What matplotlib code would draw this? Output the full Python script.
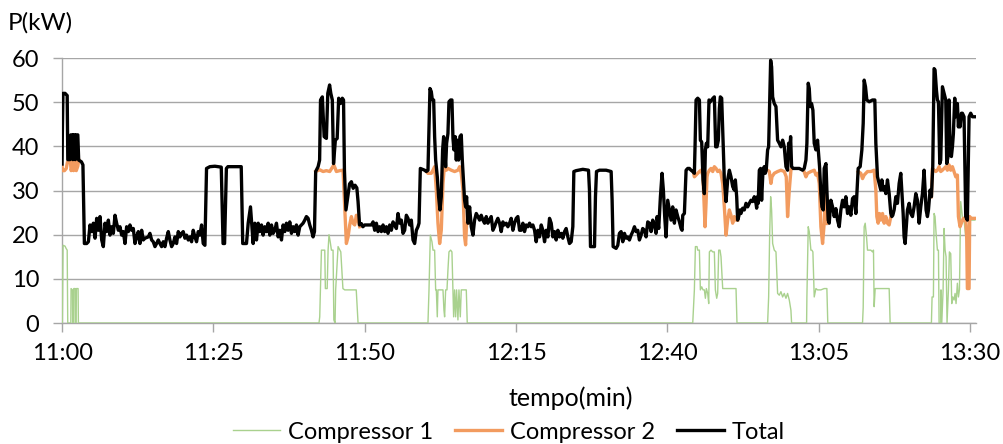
import numpy as np
import matplotlib
matplotlib.use("Agg")
import matplotlib.pyplot as plt

# minutes since 11:00, kW
t_total = [0, 0.05, 0.15, 0.5, 0.85, 0.95, 1.3, 1.45, 1.7, 1.78, 1.88, 2.1, 2.2, 2.3, 2.6, 2.75, 3.2, 3.45, 3.69,
           4.07, 4.35, 4.62, 4.90, 5.17, 5.45, 5.72, 6.00, 6.27, 6.55, 6.82, 7.10, 7.37, 7.65, 7.92, 8.20, 8.47, 8.75,
           9.02, 9.30, 9.57, 9.85, 10.12, 10.40, 10.67, 10.95, 11.22, 11.50, 11.77, 12.05, 12.32, 12.60, 12.87, 13.15,
           13.42, 13.70, 14.25, 14.52, 14.80, 15.07, 15.35, 15.62, 15.90, 16.17, 16.45, 16.72, 17.00, 17.27, 17.55,
           17.82, 18.10, 18.37, 18.65, 18.92, 19.20, 19.47, 19.75, 20.02, 20.30, 20.57, 20.85, 21.12, 21.40, 21.67,
           21.95, 22.22, 22.50, 22.77, 23.05, 23.32, 23.60, 23.87, 24.42, 25.25,
           26.3, 26.6, 26.85, 27.15, 27.4, 29.6, 29.85, 30.2, 30.47, 30.75, 31.13, 31.57, 31.85, 32.12, 32.4, 32.67,
           32.95, 33.22, 33.5, 33.77, 34.05, 34.32, 34.6, 34.87, 35.15, 35.42, 35.7, 35.97, 36.25, 36.52, 36.8, 37.07,
           37.35, 37.62, 37.9, 38.17, 38.45, 38.72, 39.0, 39.27, 39.55, 39.82, 40.1, 40.37, 40.65, 40.92, 41.2, 41.47,
           41.7, 41.9, 42.3, 42.55, 42.7, 43.0, 43.3, 43.67, 43.9, 44.2, 44.4, 44.65, 44.85, 45.15, 45.45, 45.7, 46.0,
           46.3, 46.5, 46.65, 46.9, 47.2, 47.5, 47.8, 48.1, 48.4, 48.7, 48.9, 49.15, 49.45, 49.7,
           50.0, 51.1, 51.38, 51.65, 51.93, 52.2, 52.48, 52.75, 53.03, 53.3, 53.58, 53.85, 54.13, 54.4, 54.68, 54.95,
           55.23, 55.5, 55.78, 56.05, 56.33, 56.6, 56.88, 57.15, 57.43, 57.7, 57.98, 58.25, 58.53, 58.8, 58.97, 59.19,
           59.9, 60.18, 60.45, 60.56, 60.78, 61.0, 61.17, 61.39, 61.55, 61.72, 61.99, 62.21, 62.43, 62.65, 62.87, 63.04,
           63.2, 63.37, 63.53, 63.75, 63.92, 64.19, 64.41, 64.58, 64.74, 64.96, 65.13, 65.29, 65.51, 65.73, 65.95,
           66.12, 66.28, 66.5, 66.67, 66.83, 67.05, 67.33, 67.6, 67.88, 68.15, 68.43, 68.7, 68.98, 69.25, 69.53, 69.8,
           70.08, 70.35, 70.63, 70.9, 71.18, 71.45, 71.73, 72.0, 72.28, 72.55, 72.83, 73.1, 73.38, 73.65, 73.93, 74.2,
           74.48, 74.75, 75.03, 75.3, 75.58,
           75.85, 76.13, 76.4, 76.68, 76.96, 77.23, 77.51, 77.78, 78.06, 78.33, 78.61, 78.88, 79.16, 79.43, 79.71,
           79.98, 80.26, 80.53, 80.81, 81.08, 81.36, 81.63, 81.91, 82.18, 82.46, 82.73, 83.01, 83.28, 83.56, 83.83,
           84.11, 84.38, 84.55, 84.93, 86.03, 86.97, 87.13, 87.3, 87.96, 88.12, 88.29, 88.78, 89.88, 90.71, 90.87,
           91.04, 91.53, 91.81, 92.08, 92.36, 92.63, 92.91, 93.18, 93.46, 93.73, 94.01, 94.28, 94.56, 94.83, 95.11,
           95.38, 95.66, 95.93, 96.21, 96.48, 96.76, 97.03, 97.31, 97.58, 97.86, 98.13, 98.3, 98.57, 98.85, 99.12,
           99.34, 99.56, 99.78, 100.06, 100.33, 100.61, 100.88,
           101.16, 101.43, 101.71, 101.99, 102.26, 102.43, 102.54, 102.81, 103.09, 103.36, 103.64, 103.91, 104.19,
           104.46, 104.57, 104.74, 105.01, 105.29, 105.45, 105.67, 105.89, 106.11, 106.28, 106.44, 106.66, 106.88,
           107.1, 107.32, 107.54, 107.76, 107.98, 108.2, 108.42, 108.59, 108.75, 108.97, 109.19, 109.41, 109.69,
           109.96, 110.24, 110.51, 110.79, 111.06, 111.23, 111.45, 111.61, 111.78, 112.0, 112.16, 112.44, 112.71,
           112.99, 113.26, 113.54, 113.81, 114.09, 114.36, 114.64, 114.75, 114.9, 115.0, 115.19, 115.4, 115.57, 115.8,
           116.0, 116.17, 116.33, 116.56, 116.73, 116.89, 117.06, 117.22, 117.39, 117.66, 117.94, 118.21, 118.49,
           118.76, 119.04, 119.31, 119.59, 119.86, 120.03, 120.19, 120.36, 120.52, 120.8, 121.24, 121.79, 122.34,
           122.61, 122.89, 123.05, 123.27, 123.44, 123.6, 123.82, 124.04, 124.26, 124.54, 124.81, 124.98, 125.14,
           125.36, 125.53, 125.75, 125.91, 126.2, 126.35,
           126.57, 126.74, 127.01, 127.29, 127.56, 127.84, 128.11, 128.39, 128.66, 128.94, 129.21, 129.49, 129.76,
           130.04, 130.31, 130.59, 130.86, 131.14, 131.3, 131.52, 131.85, 132.13, 132.35, 132.51, 132.73, 132.95,
           133.34, 133.89, 134.27, 134.44, 134.71, 134.99, 135.26, 135.43, 135.65, 135.87, 136.09, 136.36, 136.64,
           136.91, 137.08, 137.24, 137.46, 137.74, 138.01, 138.29, 138.56, 138.73, 138.95, 139.11, 139.28, 139.5,
           139.66, 139.94, 140.21, 140.49, 140.76, 141.04, 141.31, 141.59, 141.86, 142.14, 142.41, 142.58, 142.74,
           142.96, 143.13, 143.4, 143.62, 143.84, 144.06, 144.22, 144.45, 144.61, 144.78, 145.0, 145.16, 145.44,
           145.71, 145.99, 146.15, 146.37, 146.54, 146.7, 146.92, 147.09, 147.25, 147.47, 147.64, 147.91, 148.08,
           148.19, 148.35, 148.57, 148.74, 149.01, 149.29, 149.56, 149.84, 150.11, 150.39, 150.8]
p_total = [36, 43, 52, 52, 51.5, 37, 37, 42.6, 42.6, 37, 42.6, 42.6, 37, 42.6, 42.6, 36.9, 36.5, 35.8, 18.0,
           18.0, 18.4, 22.2, 20.7, 22.6, 19.2, 23.7, 21.0, 24.1, 18.8, 17.3, 22.6, 20.7, 23.3, 19.9, 21.8, 20.3, 24.4,
           22.6, 21.0, 21.8, 19.9, 20.7, 18.0, 21.8, 20.7, 22.2, 21.0, 21.4, 18.0, 19.5, 20.7, 18.0, 21.0,
           18.8, 19.2, 19.5, 20.3, 18.8, 18.4, 17.3, 18.0, 18.8, 18.0, 17.3, 18.4, 17.3, 19.2, 20.7,
           18.8, 17.3, 18.0, 19.5, 18.0, 20.7, 19.5, 20.3, 20.7, 19.2, 19.9, 18.8, 19.5, 18.4, 21.0,
           19.5, 18.4, 20.7, 19.9, 22.2, 18.0, 17.6, 35.0, 35.4, 35.5,
           35.3, 18.0, 18.0, 35.0, 35.4, 35.4, 18.0, 18.0, 18.0, 22.6, 26.3, 18.0, 22.6, 18.8, 22.6, 20.7,
           22.2, 19.9, 21.8, 20.7, 22.6, 19.9, 22.2, 20.3, 21.0, 22.6, 19.5, 21.0, 18.8, 22.2, 20.7, 22.6,
           21.0, 22.9, 20.3, 21.8, 20.7, 22.2, 19.9, 21.8, 22.2, 22.6, 23.3, 24.1, 23.7, 22.2, 21.0, 19.5,
           20.7, 34.3, 35.4, 36.9, 50.5, 51.2, 42.2, 41.8, 52.0, 53.9, 52.0, 50.5, 36.1, 41.4, 41.8, 50.9, 49.7,
           50.9, 50.5, 34.6, 25.6, 28.5, 31.5, 32.0, 30.5, 31.2, 30.6, 27.5, 22.2, 22.5, 21.8,
           22.2, 22.2, 22.9, 21.0, 22.6, 20.7, 21.8, 20.7, 22.2, 20.7, 21.8, 20.3, 22.2, 21.0, 22.9, 22.2,
           21.4, 24.8, 22.6, 23.3, 20.3, 21.0, 24.4, 23.7, 22.2, 23.3, 18.8, 18.0, 21.0, 21.8, 22.6, 35.0,
           34.6, 34.3, 34.6, 41.0, 53.1, 52.4, 50.5, 50.5, 42.2, 36.9, 33.1, 28.6, 25.6, 28.6, 39.2, 42.2,
           39.2, 35.4, 40.7, 42.9, 50.1, 50.5, 50.5, 41.8, 39.2, 42.2, 36.9, 41.4, 36.9, 42.2, 42.6,
           36.9, 33.1, 27.8, 26.3, 28.6, 22.6, 26.3, 21.8, 19.9, 23.3, 24.8, 24.1, 23.3, 24.4, 23.3, 22.6,
           24.1, 22.6, 23.3, 24.1, 21.0, 21.8, 22.9, 23.7, 22.6, 20.7, 22.9, 22.2, 22.6, 21.8, 22.6, 23.7,
           21.0, 22.6, 23.7, 24.1, 21.0,
           21.0, 22.6, 20.7, 22.2, 21.8, 22.6, 21.8, 22.2, 21.0, 18.4, 21.0, 19.5, 22.2, 21.0, 18.4,
           21.0, 19.5, 23.7, 22.6, 19.5, 20.7, 18.8, 21.0, 19.5, 20.3, 19.2, 20.7, 21.4, 19.5, 18.0,
           18.4, 21.8, 34.3, 34.5, 34.8, 34.6, 30.1, 17.3, 17.3, 28.6, 34.3, 34.6, 34.6, 34.3, 27.8,
           17.3, 16.9, 17.6, 20.3, 20.7, 18.4, 20.3, 19.2, 19.5, 18.8, 19.9, 20.7, 21.8, 20.7, 21.0,
           18.8, 19.9, 21.4, 21.0, 19.5, 22.9, 22.6, 20.7, 23.3, 22.2, 20.3, 24.1, 21.4, 28.6, 33.9,
           30.1, 24.1, 19.5, 27.8, 25.6, 23.3, 26.3,
           22.6, 25.6, 24.1, 22.9, 21.4, 21.0, 24.4, 24.8, 34.6, 35.0, 35.0, 34.6, 34.3,
           33.9, 39.9, 50.5, 50.9, 50.5, 41.4, 41.0, 32.4, 29.3, 39.2, 40.7, 39.9, 50.5,
           50.1, 50.5, 50.9, 51.2, 39.9, 39.9, 41.4, 48.6, 51.2, 50.9, 41.4, 32.4, 27.5,
           32.4, 34.6, 33.1, 30.9, 30.1, 32.4, 28.6, 23.3, 24.1, 25.6, 24.8, 26.0, 25.6,
           27.1, 26.3, 27.1, 27.8, 27.5, 28.6, 27.1, 26.0, 28.6, 27.1, 34.6, 35.0, 27.8, 34.6,
           35.4, 33.9, 34.6, 39.2, 39.9, 49.0, 59.5, 58.0, 51.2, 49.7, 49.0, 41.4, 40.7,
           39.9, 41.4, 39.9, 35.4, 34.6, 40.7, 38.4, 42.2, 35.4, 35.0, 35.0, 35.0, 34.6,
           35.0, 36.9, 40.7, 54.3, 53.1, 49.0, 49.7, 48.2, 40.7, 39.2, 41.4, 38.4, 35.4,
           29.3, 26.3, 25.6, 35.0, 36.1, 30.1,
           23.3, 22.6, 27.8, 26.3, 24.1, 25.9, 23.3, 21.8, 25.6, 27.8, 26.3, 28.6, 24.8,
           26.3, 24.4, 28.2, 28.6, 24.8, 29.3, 35.0, 35.4, 39.2, 45.2, 55.0, 53.5, 50.5,
           50.1, 50.5, 50.5, 40.7, 33.1, 31.6, 30.1, 32.4, 30.1, 30.9, 29.3, 32.4, 29.3,
           24.8, 24.1, 24.4, 25.6, 28.6, 27.1, 31.6, 33.9, 30.1, 24.8, 19.5, 18.0, 22.6,
           25.6, 27.1, 24.8, 24.1, 26.3, 29.3, 27.8, 22.6, 26.3, 29.3, 34.6, 30.1, 25.6,
           24.1, 25.6, 30.1, 28.6, 35.4, 57.6, 57.3, 52.7, 50.5, 50.1, 36.1, 36.9, 53.5,
           52.0, 50.5, 36.1, 37.7, 50.5, 39.2, 37.7, 39.9, 42.9, 50.9, 46.7, 49.7, 44.4,
           46.7, 44.4, 47.5, 47.5, 46.7, 24.1, 23.3, 46.7, 47.5, 46.7, 46.7]

# compressor 2: only the stretches where it shows below the total (nan = gap)
t_comp2 = [0, 0.1, 0.4, 0.7, 0.9, 1.35, 1.5, 1.7, 1.8, 1.9, 2.1, 2.2, 2.35, 2.6, 2.75, np.nan,
           41.9, 42.57, 43.12, 43.67, 44.22, 44.9, 45.32, 45.87, 46.42, 46.7, 46.97, 47.25, 47.52, 47.8, 48.07,
           48.35, 48.62, 48.9, 49.17, np.nan,
           60.18, 60.45, 61.0, 61.28, 61.55, 61.83, 62.1, 62.38, 62.65, 62.93, 63.2, 63.48, 63.75, 64.3, 64.85,
           65.4, 65.68, 65.95, 66.23, 66.5, 66.67, 66.83, 67.05, np.nan,
           104.35, 104.46, 104.74, 105.29, 105.56, 105.84, 106.0, 106.22, 106.39, 106.55, 106.66, 106.94, 107.21,
           107.49, 107.76, 108.04, 108.31, 108.59, 108.86, 109.14, 109.41, 109.69, 109.96, 110.24, 110.51, 110.79,
           111.06, 111.34, 111.61, np.nan,
           116.45, 116.56, 116.84, 117.11, 117.28, 117.66, 118.21, 118.76, 119.31, 119.64, 119.86, 120.14, 120.41,
           120.58, np.nan,
           122.5, 122.89, 123.16, 123.71, 124.26, 124.54, 124.81, 125.09, 125.36, 125.64, 125.91, 126.1, 126.2,
           126.35, 126.57, np.nan,
           131.52, 131.96, 132.24, 132.51, 132.79, 133.06, 133.61, 134.16, 134.44, 134.6, 134.82, 135.04, 135.26,
           135.54, 135.81, 136.09, 136.36, 136.64, 136.91, np.nan,
           143.62, 143.79, 144.06, 144.34, 144.61, 144.89, 145.16, 145.44, 145.71, 145.99, 146.26, 146.54, 146.81,
           147.09, 147.36, 147.64, 147.91, 148.08, 148.35, 148.57, 148.9, 149.12, 149.29, 149.45, 149.56, 149.84,
           149.95, 150.11, 150.8]
p_comp2 = [35.5, 34.5, 34.5, 35, 36.5, 37, 34.5, 35.5, 36.8, 34.5, 35.5, 36.8, 34.5, 35.5, 36.9, np.nan,
           34.3, 34.7, 34.3, 34.5, 34.3, 35.8, 34.3, 34.5, 34.6, 26.3, 18.0, 19.5, 22.2, 24.1, 22.6,
           22.2, 24.4, 23.3, 21.8, np.nan,
           34.3, 33.9, 33.9, 34.6, 35.4, 30.1, 22.6, 18.0, 21.0, 31.6, 36.1, 34.6, 35.0, 34.6, 34.3,
           34.6, 35.4, 33.9, 30.1, 19.5, 17.7, 22.6, 22.6, np.nan,
           33.9, 33.1, 33.5, 34.3, 34.6, 33.5, 29.3, 21.8, 27.1, 33.1, 33.9, 34.6, 35.0,
           34.3, 35.4, 35.0, 34.3, 34.6, 33.9, 31.6, 26.3, 19.9, 23.3, 25.6, 24.4, 22.6,
           24.1, 23.3, 23.3, np.nan,
           34.6, 34.6, 34.3, 31.6, 33.1, 33.9, 34.3, 34.6, 34.3, 33.1, 24.1, 30.1, 34.6,
           35.0, np.nan,
           34.6, 33.1, 33.9, 34.3, 34.6, 33.5, 33.9, 31.6, 21.8, 18.0, 22.6, 29.5, 30.1,
           22.5, 23.3, np.nan,
           34.3, 33.9, 32.7, 33.5, 33.9, 34.3, 34.3, 34.6, 30.1, 24.1, 22.6, 24.8, 23.3,
           24.8, 22.6, 24.1, 22.6, 22.2, 24.1, np.nan,
           28.6, 35.0, 34.6, 34.3, 34.6, 35.4, 34.3, 34.6, 35.0, 35.4, 34.6, 35.8, 34.6,
           35.4, 34.3, 33.1, 33.5, 24.1, 21.8, 22.6, 23.7, 23.3, 24.1, 19.5, 7.8, 7.8,
           24.1, 23.7, 23.7]

t_comp1 = [0, 0.05, 0.17, 0.5, 0.66, 0.85, 0.94, 1.45, 1.49, 1.72, 1.76, 1.9, 1.93, 2.17, 2.2, 2.33, 2.37, 2.65, 2.7,
           42.45, 42.57, 42.85, 43.4, 43.5, 43.8, 43.95, 44.1, 44.3, 44.5, 44.77, 44.9, 45.1, 45.2, 45.6, 45.9,
           46.05, 46.4, 46.7, 48.6, 48.9,
           60.45, 60.62, 60.84, 61.11, 61.28, 61.55, 61.72, 61.83, 61.99, 62.1, 62.65, 62.93, 63.09, 63.2, 63.37,
           63.59, 63.75, 63.92, 64.19, 64.41, 64.58, 64.69, 64.85, 65.02, 65.18, 65.4, 65.57, 65.79, 65.95, 66.5,
           66.78, 66.94,
           104.19, 104.46, 104.63, 104.9, 105.01, 105.29, 105.45, 105.67, 105.89, 106.11, 106.28, 106.44, 106.66,
           106.83, 106.94, 107.21, 107.49, 107.76, 107.93, 108.15, 108.31, 108.48, 108.7, 108.86, 109.14, 111.34,
           111.5,
           116.56, 116.73, 116.89, 117.06, 117.22, 117.39, 117.66, 117.94, 118.21, 118.49, 118.76, 119.04, 119.31,
           119.59, 119.86, 120.14, 120.41, 120.52,
           123.0, 123.05, 123.27, 123.44, 123.71, 123.87, 124.04, 124.26, 124.54, 124.81, 125.36, 125.91, 126.35,
           126.5,
           132.24, 132.35, 132.51, 132.68, 132.9, 133.06, 133.61, 133.89, 134.05, 134.16, 134.33, 134.71, 135.26,
           136.64, 136.8,
           143.62, 143.73, 143.95, 144.06, 144.22, 144.39, 144.61, 144.78, 144.89, 145.16, 145.2, 145.33, 145.55,
           145.71, 145.88, 146.04, 146.2, 146.43, 146.59, 146.81, 146.98, 147.15, 147.36, 147.53, 147.69, 147.91,
           148.08, 148.25, 148.46, 148.74, 149.01, 149.29, 149.45, 149.56, 149.84, 150.11, 150.8]
p_comp1 = [0, 0, 17.6, 17.4, 16.9, 16.5, 0, 0, 7.8, 7.5, 0, 0, 7.8, 7.8, 0, 0, 7.8, 7.8, 0,
           0, 1.4, 16.5, 16.5, 7.8, 7.8, 16.5, 20.0, 18.4, 16.5, 16.5, 0.7, 0, 7.5, 17.3, 16.5,
           16.1, 7.8, 7.5, 7.5, 0,
           0, 7.5, 19.9, 18.4, 16.5, 16.5, 7.5, 7.5, 1.4, 7.5, 7.5, 7.5, 2.9, 1.4, 7.5,
           7.5, 12.0, 16.1, 16.5, 16.1, 7.5, 1.4, 7.5, 1.4, 7.5, 0.7, 7.5, 1.4, 7.5, 7.5,
           7.5, 0,
           0, 7.5, 17.3, 17.3, 16.5, 16.5, 7.5, 8.2, 7.5, 7.5, 5.6, 7.8, 6.7,
           4.4, 16.1, 16.5, 16.1, 16.1, 7.5, 5.6, 6.7, 16.5, 16.5, 15.0, 7.8, 7.8,
           0,
           0, 5.9, 19.5, 28.6, 25.6, 18.0, 16.5, 16.1, 6.7, 6.3, 7.1, 5.9, 6.7,
           5.6, 6.7, 5.2, 2.9, 0,
           0, 5.9, 21.8, 20.7, 16.5, 16.5, 16.1, 5.9, 7.8, 7.5, 7.5, 7.8, 7.8,
           0,
           0, 3.5, 21.8, 22.6, 19.5, 16.5, 16.5, 16.1, 16.5, 3.7, 7.8, 7.8, 7.8,
           7.8, 0,
           0, 5.9, 5.9, 24.8, 24.1, 20.3, 16.5, 16.5, 0, 0, 7.5, 0, 7.5,
           21.4, 16.5, 15.0, 0, 7.5, 16.1, 15.7, 4.4, 5.9, 5.2, 6.7, 4.4, 9.0,
           5.9, 7.5, 27.5, 24.1, 23.3, 19.5, 18.8, 21.8, 22.6, 23.3, 23.3]

tick_pos = [0, 25, 50, 75, 100, 125, 150]
tick_labels = ["11:00", "11:25", "11:50", "12:15", "12:40", "13:05", "13:30"]

plt.rcParams['font.family'] = ['Lato', 'DejaVu Sans']

fig = plt.figure(figsize=(10.04, 4.44), dpi=100)
ax = fig.add_axes([0.0618, 0.2725, 0.9104, 0.5968])

ax.plot(t_comp1, p_comp1, color='#A9D18E', lw=1.0, label='Compressor 1', zorder=3)
ax.plot(t_comp2, p_comp2, color='#F29B5F', lw=2.4, label='Compressor 2', zorder=4)
ax.plot(t_total, p_total, color='black', lw=2.4, label='Total', zorder=5)

ax.set_xlim(0, 151)
ax.set_ylim(0, 60)
ax.set_yticks(range(0, 61, 10))
ax.set_xticks(tick_pos)
ax.set_xticklabels(tick_labels)
ax.grid(axis='y', color='#A6A6A6', lw=1.0)
ax.set_axisbelow(True)
for s in ['top', 'right']:
    ax.spines[s].set_visible(False)
for s in ['left', 'bottom']:
    ax.spines[s].set_color('#A6A6A6')
    ax.spines[s].set_linewidth(1.0)
ax.tick_params(axis='y', length=6.5, width=1.0, color='#A6A6A6', pad=10, labelsize=17)
ax.tick_params(axis='x', length=6.5, width=1.0, color='#A6A6A6', pad=8, labelsize=17)

fig.text(0.008, 0.948, 'P(kW)', fontsize=17.5, ha='left', va='center')
fig.text(0.568, 0.104, 'tempo(min)', fontsize=18, ha='center', va='center')
fig.legend(loc='center', bbox_to_anchor=(0.507, 0.027), ncol=3, frameon=False, fontsize=17,
           handlelength=2.0, handletextpad=0.35, columnspacing=0.9)

fig.savefig('out.png', dpi=100)
